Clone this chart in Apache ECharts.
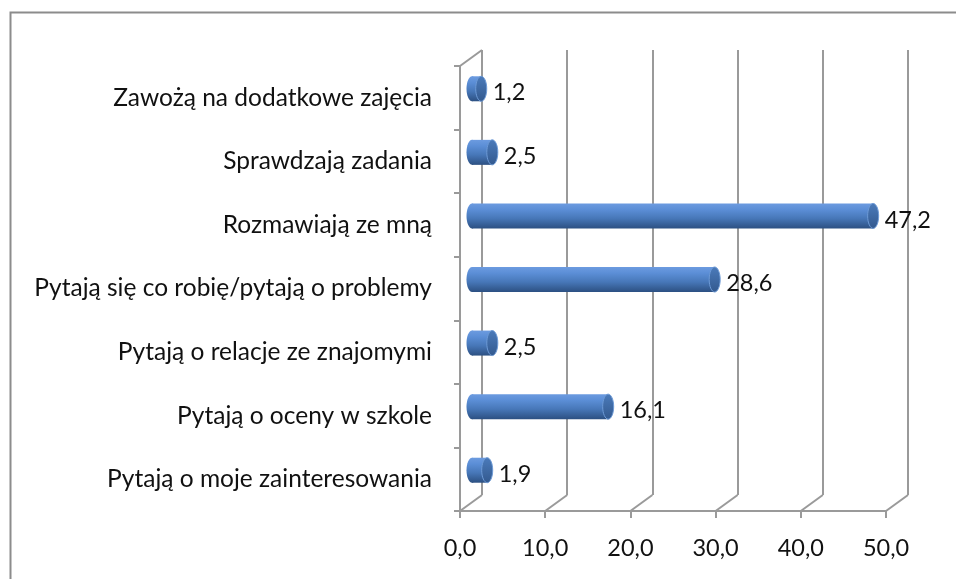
<!DOCTYPE html>
<html>
<head>
<meta charset="utf-8">
<script src="https://cdn.jsdelivr.net/npm/echarts@6/dist/echarts.min.js"></script>
<style>
  html, body { margin: 0; padding: 0; background: #fff; }
  #chart { width: 956px; height: 579px; }
</style>
</head>
<body>
<div id="chart"></div>
<script>
// categories from bottom to top, as on the axis
const categories = [
    'Pytają o moje zainteresowania',
    'Pytają o oceny w szkole',
    'Pytają o relacje ze znajomymi',
    'Pytają się co robię/pytają o problemy',
    'Rozmawiają ze mną',
    'Sprawdzają zadania',
    'Zawożą na dodatkowe zajęcia'
];
const values = [1.9, 16.1, 2.5, 28.6, 47.2, 2.5, 1.2];
const xTicks = [0, 10, 20, 30, 40, 50];

// depth of the fake 3D box (back wall offset)
const DX = 22, DY = -16;
const FONT = 'Lato';
const GRID_COLOR = '#9a9a9a';
const TEXT_COLOR = '#111';

const fmt = v => v.toFixed(1).replace('.', ',');

const chartDom = document.getElementById('chart');
const chart = echarts.init(chartDom);

// cylinder bars, drawn in the middle of the depth
function renderBar(params, api) {
    const v = api.value(0);
    const c = api.value(1);
    const p0 = api.coord([0, c]);
    const p1 = api.coord([v, c]);
    const x0 = p0[0] + DX / 2 + 1;
    const x1 = p1[0] + DX / 2;
    const yc = p0[1] + DY / 2 - 1;
    const h = 25;
    const rx = 5.5;
    const body = new echarts.graphic.LinearGradient(0, 0, 0, 1, [
        { offset: 0, color: '#6c9be0' },
        { offset: 0.25, color: '#5b8ed6' },
        { offset: 0.6, color: '#4777b8' },
        { offset: 1, color: '#2c5082' }
    ]);
    const cap = new echarts.graphic.LinearGradient(0, 0, 0, 1, [
        { offset: 0, color: '#4b7bbb' },
        { offset: 1, color: '#33598e' }
    ]);
    return {
        type: 'group',
        children: [
            {
                type: 'ellipse',
                shape: { cx: x0, cy: yc, rx: rx, ry: h / 2 },
                style: { fill: body }
            },
            {
                type: 'rect',
                shape: { x: x0, y: yc - h / 2, width: Math.max(x1 - x0, 0), height: h },
                style: { fill: body }
            },
            {
                type: 'ellipse',
                shape: { cx: x1, cy: yc, rx: rx, ry: h / 2 },
                style: { fill: cap, stroke: '#6d9ad6', lineWidth: 1 }
            },
            {
                type: 'text',
                x: x1 + rx + 6,
                y: yc + 4,
                style: {
                    text: fmt(v),
                    fontFamily: FONT,
                    fontSize: 23.5,
                    fill: TEXT_COLOR,
                    verticalAlign: 'middle',
                    align: 'left'
                }
            }
        ]
    };
}

// diagonal floor / corner lines joining the front axes to the back wall
function renderDiag(params, api) {
    const v = api.value(0);
    const cs = params.coordSys;
    const children = [];
    const p = api.coord([v, 0]);
    const yb = cs.y + cs.height;
    children.push({
        type: 'line',
        shape: { x1: p[0], y1: yb, x2: p[0] + DX, y2: yb + DY },
        style: { stroke: GRID_COLOR, lineWidth: 2 }
    });
    if (v === 0) {
        children.push({
            type: 'line',
            shape: { x1: p[0], y1: cs.y, x2: p[0] + DX, y2: cs.y + DY },
            style: { stroke: GRID_COLOR, lineWidth: 2 }
        });
    }
    return { type: 'group', children: children };
}

const option = {
    animation: false,
    backgroundColor: '#fff',
    graphic: [{
        type: 'rect',
        left: 8,
        top: 10,
        shape: { width: 1000, height: 1000 },
        style: { fill: 'none', stroke: '#8c8c8c', lineWidth: 2 },
        silent: true,
        z: 0
    }],
    grid: [
        // front plane (axes and labels)
        { left: 460, right: 70, top: 66, bottom: 68 },
        // back wall (gridlines)
        { left: 460 + DX, right: 70 - DX, top: 66 + DY, bottom: 68 - DY }
    ],
    xAxis: [
        {
            gridIndex: 0,
            type: 'value',
            min: 0,
            max: 50,
            interval: 10,
            axisLine: { show: true, lineStyle: { color: GRID_COLOR, width: 2 } },
            axisTick: { show: true, length: 7, lineStyle: { color: GRID_COLOR, width: 2 } },
            splitLine: { show: false },
            axisLabel: {
                margin: 25,
                fontFamily: FONT,
                fontSize: 23.5,
                color: TEXT_COLOR,
                formatter: v => fmt(v)
            }
        },
        {
            gridIndex: 1,
            type: 'value',
            min: 0,
            max: 50,
            interval: 10,
            axisLine: { show: false },
            axisTick: { show: false },
            axisLabel: { show: false },
            splitLine: { show: true, lineStyle: { color: GRID_COLOR, width: 2 } }
        }
    ],
    yAxis: [
        {
            gridIndex: 0,
            type: 'category',
            data: categories,
            axisLine: { show: true, lineStyle: { color: GRID_COLOR, width: 2 } },
            axisTick: { show: true, length: 6, lineStyle: { color: GRID_COLOR, width: 2 } },
            axisLabel: {
                margin: 28,
                fontFamily: FONT,
                fontSize: 24.5,
                color: TEXT_COLOR
            }
        },
        {
            gridIndex: 1,
            type: 'category',
            data: categories,
            axisLine: { show: false },
            axisTick: { show: false },
            axisLabel: { show: false }
        }
    ],
    series: [
        {
            type: 'custom',
            xAxisIndex: 0,
            yAxisIndex: 0,
            renderItem: renderDiag,
            data: xTicks.map(t => [t]),
            encode: { x: 0 },
            silent: true,
            z: 1
        },
        {
            type: 'custom',
            xAxisIndex: 0,
            yAxisIndex: 0,
            renderItem: renderBar,
            data: values.map((v, i) => [v, i]),
            encode: { x: 0, y: 1 },
            z: 3
        }
    ]
};

chart.setOption(option);
</script>
</body>
</html>
